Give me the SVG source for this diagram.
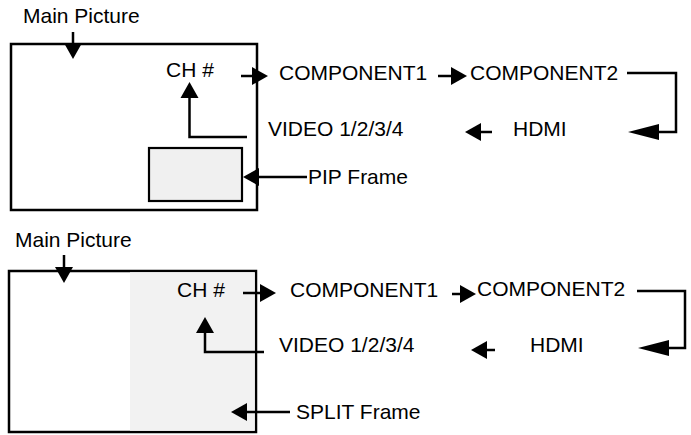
<svg xmlns="http://www.w3.org/2000/svg" width="691" height="435" viewBox="0 0 691 435">
<style>
text{font-family:"Liberation Sans",Arial,sans-serif;font-size:21px;fill:#000}
.frame{fill:#fff;stroke:#000;stroke-width:2.5}
.pip{fill:#f0f0f0;stroke:#000;stroke-width:2.2}
.c{fill:none;stroke:#000;stroke-width:2.5}
</style>
<defs>
<marker id="ah" markerUnits="userSpaceOnUse" viewBox="0 0 20 20" markerWidth="20" markerHeight="20" refX="0" refY="10" orient="auto"><path d="M0,1 L16,10 L0,19 z" fill="#000"/></marker>
<marker id="ahl" markerUnits="userSpaceOnUse" viewBox="0 0 34 20" markerWidth="34" markerHeight="20" refX="0" refY="10" orient="auto"><path d="M0,2 L31,10 L0,18 z" fill="#000"/></marker>
</defs>
<g id="screen1">
<rect id="main1" class="frame" x="11" y="44" width="246" height="166"/>
<rect id="pip1" class="pip" x="149" y="148" width="93" height="53"/>
</g>
<g id="screen2">
<rect id="main2" class="frame" x="9" y="271" width="247" height="161"/>
<rect id="split2" x="130" y="272.25" width="124.75" height="158.5" fill="#f2f2f2"/>
</g>
<g id="labels1">
<text id="mp1" x="23" y="23">Main Picture</text>
<text id="ch1" x="166" y="77">CH #</text>
<text id="comp1a" x="279" y="80">COMPONENT1</text>
<text id="comp2a" x="470" y="80">COMPONENT2</text>
<text id="video1" x="268" y="136">VIDEO 1/2/3/4</text>
<text id="hdmi1" x="513" y="136">HDMI</text>
<text id="pipl" x="308" y="184">PIP Frame</text>
</g>
<g id="labels2">
<text id="mp2" x="15" y="247">Main Picture</text>
<text id="ch2" x="177" y="297">CH #</text>
<text id="comp1b" x="290" y="297">COMPONENT1</text>
<text id="comp2b" x="477" y="296">COMPONENT2</text>
<text id="video2" x="279" y="352">VIDEO 1/2/3/4</text>
<text id="hdmi2" x="530" y="352">HDMI</text>
<text id="splitl" x="296" y="419">SPLIT Frame</text>
</g>
<g id="connectors">
<path class="c" d="M73,32 V43" marker-end="url(#ah)"/>
<path class="c" d="M241,76 H252" marker-end="url(#ah)"/>
<path class="c" d="M438,76 H451" marker-end="url(#ah)"/>
<path class="c" d="M627,73 H676 V132 H659" marker-end="url(#ahl)"/>
<path class="c" d="M492,132 H481" marker-end="url(#ah)"/>
<path class="c" d="M247,137 H189.5 V98" marker-end="url(#ah)"/>
<path class="c" d="M307,177 H259" marker-end="url(#ah)"/>
<path class="c" d="M64,255 V267" marker-end="url(#ah)"/>
<path class="c" d="M243,293 H260" marker-end="url(#ah)"/>
<path class="c" d="M452,294 H460" marker-end="url(#ah)"/>
<path class="c" d="M637,291 H685 V348 H669" marker-end="url(#ahl)"/>
<path class="c" d="M495,350 H487" marker-end="url(#ah)"/>
<path class="c" d="M264,352 H205 V333" marker-end="url(#ah)"/>
<path class="c" d="M290,412 H247" marker-end="url(#ah)"/>
</g>
</svg>
